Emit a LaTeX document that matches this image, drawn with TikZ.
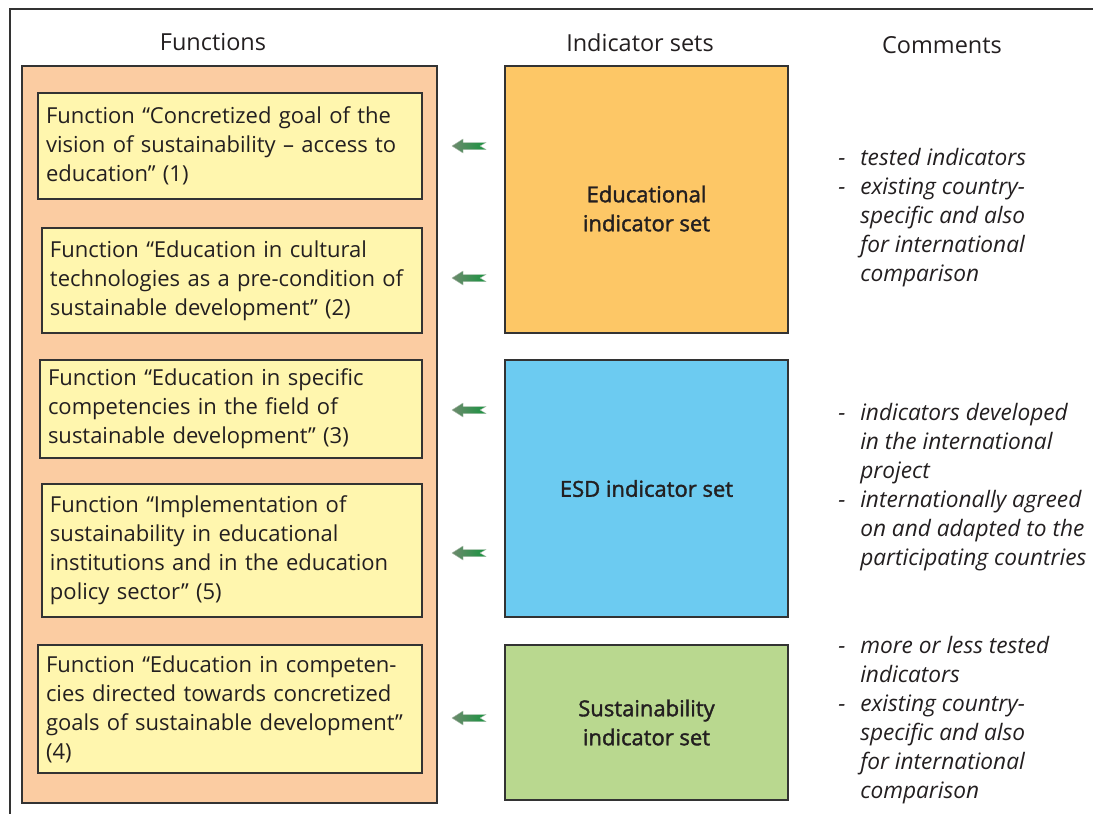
\documentclass[tikz,border=0pt]{standalone}
\usepackage{fontspec}
\setmainfont{Open Sans}
\newfontfamily\semib[FakeBold=1.6]{Open Sans}
\definecolor{frame}{HTML}{333333}
\definecolor{txt}{HTML}{231F20}
\definecolor{orangebg}{HTML}{FBCCA2}
\definecolor{yellowbg}{HTML}{FFF6AE}
\definecolor{edu}{HTML}{FDC766}
\definecolor{esd}{HTML}{6CCBF1}
\definecolor{sust}{HTML}{B9D88F}
\definecolor{arrL}{HTML}{6E8A6E}
\definecolor{arrR}{HTML}{17943F}
\tikzset{
  box/.style={draw=frame, line width=1.1pt, rectangle, inner sep=0pt},
  fnbox/.style={box, fill=yellowbg, inner xsep=6pt, align=left, text=txt,
     font=\fontsize{16.5}{21.75}\selectfont},
  indbox/.style={box, align=center, text=txt, font=\fontsize{16.5}{21.75}\selectfont\semib},
  indlabel/.style={align=center, text=txt, inner sep=0pt, font=\fontsize{16.5}{21.75}\selectfont\semib},
  header/.style={text=txt, font=\fontsize{17.6}{20}\selectfont},
  comment/.style={text=txt, align=left, anchor=north west, inner sep=0pt,
     font=\fontsize{17}{21.75}\selectfont\itshape},
  blockarrow/.style={draw=arrL!60, line width=0.3pt, left color=arrL, right color=arrR}
}
\newcommand{\dsh}{\makebox[16.5pt][l]{-}}
\newcommand{\ind}{\hspace*{16.5pt}}
\begin{document}
\begin{tikzpicture}[x=0.75pt,y=-0.75pt]
\useasboundingbox (0,0) rectangle (1093,814);
% outer frame
\draw[frame, line width=2.2pt] (10,820) -- (10,9) -- (1100,9);
% headers
\node[header] (hf) at (213,42) {Functions};
\node[header] (hi) at (640,43) {Indicator sets};
\node[header] (hc) at (942,45) {Comments};
% orange background
\node[box, fill=orangebg, minimum width=311.25pt, minimum height=552.75pt] (fun) at (229.5,434.5) {};
% function boxes
\node[fnbox, text width=276pt, minimum height=79.5pt] (f1) at (230,146)
  {Function “Concretized goal of the\\vision of sustainability – access to\\education” (1)};
\node[fnbox, text width=273pt, minimum height=78.75pt] (f2) at (232,280.5)
  {Function “Education in cultural\\technologies as a pre-condition of\\sustainable development” (2)};
\node[fnbox, text width=274.5pt, minimum height=73.5pt] (f3) at (231,409)
  {Function “Education in specific\\competencies in the field of\\sustainable development” (3)};
\node[fnbox, text width=273pt, minimum height=99.75pt] (f4) at (232,550.5)
  {Function “Implementation of\\sustainability in educational\\institutions and in the education\\policy sector” (5)};
\node[fnbox, text width=276pt, minimum height=96pt] (f5) at (230,709)
  {Function “Education in competen-\\cies directed towards concretized\\goals of sustainable development”\\(4)};
% indicator boxes
\node[box, fill=edu, minimum width=212.25pt, minimum height=200.25pt] (edu) at (646.5,199.5) {};
\node[indlabel] (eduL) at (646.5,208.5) {Educational\\indicator set};
\node[indbox, fill=esd, minimum width=212.25pt, minimum height=192.75pt] (esd) at (646.5,488.5)
  {ESD indicator set};
\node[indbox, fill=sust, minimum width=212.25pt, minimum height=116.25pt] (sus) at (646.5,722.5)
  {Sustainability\\indicator set};
% arrows
\foreach \cy in {146,278,410,553,718}{
  \draw[blockarrow] (452,\cy) -- (463,\cy-7) -- (463,\cy-3.5) -- (486,\cy-3.5) -- (480,\cy)
     -- (486,\cy+3.5) -- (463,\cy+3.5) -- (463,\cy+7) -- cycle;
}
% comments
\node[comment] (c1) at (838,148)
  {\dsh tested indicators\\\dsh existing country-\\\ind specific and also\\\ind for international\\\ind comparison};
\node[comment] (c2) at (838,403)
  {\dsh indicators developed\\\ind in the international\\\ind project\\\dsh internationally agreed\\\ind on and adapted to the\\\ind participating countries};
\node[comment] (c3) at (838,636)
  {\dsh more or less tested\\\ind indicators\\\dsh existing country-\\\ind specific and also\\\ind for international\\\ind comparison};
\end{tikzpicture}
\end{document}
